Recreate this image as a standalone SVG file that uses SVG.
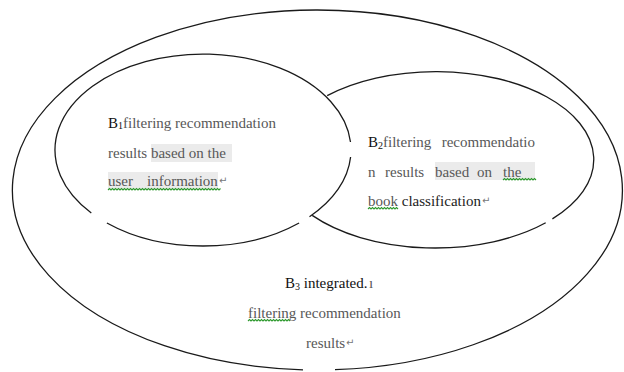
<svg xmlns="http://www.w3.org/2000/svg" width="624" height="372" viewBox="0 0 624 372">
<style>
.edge{fill:none;stroke:#1a1a1a;stroke-width:1.3}
.t{font-family:'Liberation Serif','DejaVu Serif',serif;font-size:15px;fill:#585858}
.k{fill:#111}
.sub{font-size:10px}
.hl{fill:#ebebeb}
.wavy{fill:none;stroke:#2f9a2f;stroke-width:1.1}
.ret{font-family:'DejaVu Sans',sans-serif;font-size:10px;fill:#777}
</style>
<rect width="624" height="372" fill="#fff"/>
<g id="B3">
<path class="edge" d="M303,369.8 A305,180 0 1 1 335,369.7"/>
<text class="t k" x="285" y="288" font-family="Liberation Serif, serif">B<tspan class="sub" dy="2">3</tspan><tspan dy="-2"> integrated.</tspan></text>
<text class="t" x="369" y="288" font-size="8" font-family="Liberation Serif, serif">ı</text>
<text class="t" x="248" y="318" font-family="Liberation Serif, serif">filtering recommendation</text>
<path class="wavy" d="M248,321 l1.5,-1.5 l1.5,1.5 l1.5,-1.5 l1.5,1.5 l1.5,-1.5 l1.5,1.5 l1.5,-1.5 l1.5,1.5 l1.5,-1.5 l1.5,1.5 l1.5,-1.5 l1.5,1.5 l1.5,-1.5 l1.5,1.5 l1.5,-1.5 l1.5,1.5 l1.5,-1.5 l1.5,1.5 l1.5,-1.5 l1.5,1.5 l1.5,-1.5 l1.5,1.5 l1.5,-1.5 l1.5,1.5 l1.5,-1.5 l1.5,1.5 l1.5,-1.5 l1.5,1.5"/>
<text class="t" x="306" y="348" font-family="Liberation Serif, serif">results</text>
<text class="ret" x="346" y="346">↵</text>
</g>
<g id="B2">
<path class="edge" d="M327.2,95.6 A158,88 0 0 1 552.4,218.9"/>
<path class="edge" d="M545.7,222.8 A158,88 0 0 1 312.2,215.4"/>
<rect class="hl" x="435" y="162" width="100" height="18"/>
<text class="t" x="368" y="147" font-family="Liberation Serif, serif"><tspan class="k">B</tspan><tspan class="sub k" dy="2">2</tspan><tspan dy="-2">filtering</tspan></text>
<text class="t" x="535" y="147" text-anchor="end" font-family="Liberation Serif, serif">recommendatio</text>
<text class="t" y="177" font-family="Liberation Serif, serif"><tspan x="368">n</tspan><tspan x="385">results</tspan><tspan x="435">based</tspan><tspan x="477">on</tspan><tspan x="503">the</tspan></text>
<path class="wavy" d="M503,180 l1.5,-1.5 l1.5,1.5 l1.5,-1.5 l1.5,1.5 l1.5,-1.5 l1.5,1.5 l1.5,-1.5 l1.5,1.5 l1.5,-1.5 l1.5,1.5 l1.5,-1.5 l1.5,1.5 l1.5,-1.5 l1.5,1.5 l1.5,-1.5 l1.5,1.5 l1.5,-1.5 l1.5,1.5 l1.5,-1.5 l1.5,1.5 l1.5,-1.5 l1.5,1.5"/>
<text class="t" x="368" y="206" font-family="Liberation Serif, serif">book <tspan fill="#222">classification</tspan></text>
<path class="wavy" d="M368,209 l1.5,-1.5 l1.5,1.5 l1.5,-1.5 l1.5,1.5 l1.5,-1.5 l1.5,1.5 l1.5,-1.5 l1.5,1.5 l1.5,-1.5 l1.5,1.5 l1.5,-1.5 l1.5,1.5 l1.5,-1.5 l1.5,1.5 l1.5,-1.5 l1.5,1.5 l1.5,-1.5 l1.5,1.5 l1.5,-1.5 l1.5,1.5"/>
<text class="ret" x="482" y="204">↵</text>
</g>
<g id="B1">
<path class="edge" d="M91.3,213 A148,96 0 1 1 350.5,142"/>
<path class="edge" d="M350.6,157 A148,96 0 0 1 309.5,216.7"/>
<path class="edge" d="M299.1,223 A148,96 0 0 1 106.9,223"/>
<rect class="hl" x="151" y="144" width="81" height="18"/>
<rect class="hl" x="108" y="172" width="110" height="17"/>
<text class="t" x="108" y="128" font-family="Liberation Serif, serif"><tspan class="k">B</tspan><tspan class="sub k" dy="1">1</tspan><tspan dy="-1">filtering recommendation</tspan></text>
<text class="t" x="108" y="158" font-family="Liberation Serif, serif">results based on the</text>
<text class="t" y="186" font-family="Liberation Serif, serif"><tspan x="108">user</tspan><tspan x="147">information</tspan></text>
<path class="wavy" d="M108,190 l1.5,-1.5 l1.5,1.5 l1.5,-1.5 l1.5,1.5 l1.5,-1.5 l1.5,1.5 l1.5,-1.5 l1.5,1.5 l1.5,-1.5 l1.5,1.5 l1.5,-1.5 l1.5,1.5 l1.5,-1.5 l1.5,1.5 l1.5,-1.5 l1.5,1.5 l1.5,-1.5 l1.5,1.5 l1.5,-1.5 l1.5,1.5 l1.5,-1.5 l1.5,1.5 l1.5,-1.5 l1.5,1.5 l1.5,-1.5 l1.5,1.5 l1.5,-1.5 l1.5,1.5 l1.5,-1.5 l1.5,1.5 l1.5,-1.5 l1.5,1.5 l1.5,-1.5 l1.5,1.5 l1.5,-1.5 l1.5,1.5 l1.5,-1.5 l1.5,1.5 l1.5,-1.5 l1.5,1.5 l1.5,-1.5 l1.5,1.5 l1.5,-1.5 l1.5,1.5 l1.5,-1.5 l1.5,1.5 l1.5,-1.5 l1.5,1.5 l1.5,-1.5 l1.5,1.5 l1.5,-1.5 l1.5,1.5 l1.5,-1.5 l1.5,1.5 l1.5,-1.5 l1.5,1.5 l1.5,-1.5 l1.5,1.5 l1.5,-1.5 l1.5,1.5 l1.5,-1.5 l1.5,1.5 l1.5,-1.5 l1.5,1.5 l1.5,-1.5 l1.5,1.5 l1.5,-1.5 l1.5,1.5 l1.5,-1.5 l1.5,1.5 l1.5,-1.5 l1.5,1.5 l1.5,-1.5 l1.5,1.5 l1.5,-1.5"/>
<text class="ret" x="219" y="184">↵</text>
</g>
<g id="connectors"/>
</svg>
